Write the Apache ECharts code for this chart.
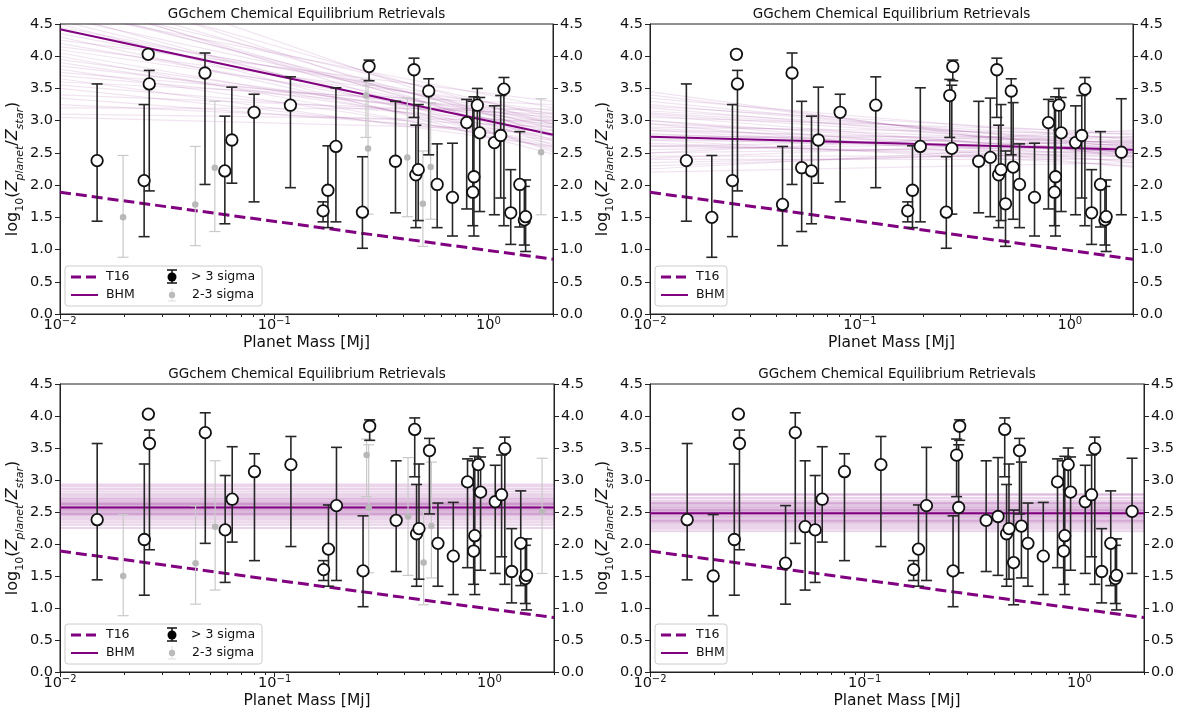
<!DOCTYPE html>
<html><head><meta charset="utf-8">
<script src="https://cdn.jsdelivr.net/npm/echarts@6/dist/echarts.min.js"></script>
<style>html,body{margin:0;padding:0;background:#fff}#c{width:1178px;height:715px}</style>
</head><body><div id="c"></div>
<script>
// ---------------- data ----------------
const MASS_MIN = 0.01, MASS_MAX = 2;
const planetMass = [0.0149,0.0197,0.0247,0.0258,0.0261,0.0428,0.0475,0.0528,0.0588,0.0634,0.0805,0.119,0.169,0.178,0.194,0.258,0.268,0.274,0.277,0.368,0.418,0.449,0.458,0.470,0.494,0.526,0.537,0.576,0.679,0.791,0.845,0.855,0.887,0.910,1.065,1.14,1.18,1.27,1.40,1.47,1.49,1.76];
const logZ      = [2.38,1.50,2.07,4.03,3.57,1.70,3.74,2.27,2.22,2.70,3.13,3.24,1.60,1.92,2.60,1.58,3.39,2.57,3.84,2.37,2.43,3.79,2.16,2.24,1.71,3.46,2.28,2.01,1.81,2.97,1.89,2.13,3.24,2.81,2.66,2.77,3.49,1.57,2.01,1.46,1.51,2.51];
const logZLow   = [1.44,0.88,1.20,3.98,1.91,1.06,2.01,1.28,1.40,2.03,1.74,1.96,1.43,1.34,1.43,1.02,2.74,1.55,3.62,1.57,1.51,3.05,1.34,1.45,1.05,2.47,1.47,1.34,1.21,1.63,1.37,1.21,2.85,1.59,1.54,1.80,1.37,1.08,1.35,1.07,0.97,1.54];
const logZHigh  = [3.57,2.46,3.25,4.05,3.78,2.60,4.05,3.30,3.07,3.52,3.41,3.68,1.74,2.61,3.51,2.44,3.64,3.55,3.94,3.30,3.35,3.97,2.93,3.25,2.53,3.65,3.28,2.64,2.65,3.33,3.30,3.37,3.50,3.36,3.23,3.39,3.67,2.24,2.83,1.98,2.08,3.34];
// 3 => detection > 3 sigma, 2 => 2-3 sigma
const detectionSigma = [3,2,3,3,3,2,3,2,3,3,3,3,3,3,3,3,2,2,3,3,2,3,3,3,2,3,2,3,3,3,3,3,3,3,3,3,3,3,3,3,3,2];

const t16Start = 1.89, t16End = 0.85;
const bhmStart = [4.42, 2.75, 2.57, 2.48];
const bhmEnd   = [2.78, 2.55, 2.57, 2.48];

const postTLStart = [4.90,4.60,4.20,3.95,5.20,4.75,3.70,4.05,4.45,3.40,5.00,4.30,3.85,4.65,3.55,4.15,5.40,3.25,4.55,3.90,4.85,3.60,4.35,3.10,4.00,5.10,3.80,4.70,3.35,4.25,3.05,4.50,3.75,4.95,3.50,4.10,3.20,4.80,3.65,4.40];
const postTLEnd   = [2.70,2.95,2.85,2.90,2.62,2.88,3.05,2.72,3.02,3.10,2.80,2.60,2.98,2.55,2.95,3.15,2.75,2.90,2.68,2.80,3.05,3.25,2.92,3.00,2.58,2.95,2.65,3.20,2.78,3.30,2.85,2.48,3.12,2.52,2.70,3.00,3.18,2.76,2.60,3.10];
const postTRStart = [3.10,2.85,3.35,2.60,2.95,2.40,3.20,2.75,3.00,2.50,3.40,2.70,2.90,2.30,3.15,2.55,2.80,3.25,2.45,3.05,2.65,2.25,3.30,2.85,2.60,3.00,2.35,2.70,3.45,2.95,2.50,3.12,2.78,2.20,2.88,3.22,2.62,2.42,3.08,2.72];
const postTREnd   = [2.60,2.45,2.70,2.50,2.65,2.40,2.55,2.75,2.35,2.60,2.48,2.30,2.80,2.55,2.72,2.68,2.52,2.62,2.45,2.82,2.38,2.65,2.58,2.66,2.75,2.50,2.50,2.58,2.42,2.28,2.85,2.68,2.62,2.35,2.55,2.78,2.44,2.70,2.46,2.52];
const postBL = [2.25,2.30,2.34,2.38,2.41,2.44,2.46,2.48,2.50,2.52,2.53,2.55,2.56,2.58,2.59,2.61,2.62,2.64,2.66,2.68,2.70,2.72,2.75,2.78,2.82,2.86,2.90,2.93,2.47,2.63];
const postBR = [2.20,2.24,2.27,2.30,2.33,2.36,2.38,2.40,2.42,2.44,2.46,2.47,2.49,2.50,2.52,2.54,2.56,2.58,2.60,2.62,2.65,2.68,2.72,2.76,2.78,2.35,2.53,2.64];

const xMajorTicks = [0.01, 0.1, 1];
const xMinorTicks = [0.02,0.03,0.04,0.05,0.06,0.07,0.08,0.09,0.2,0.3,0.4,0.5,0.6,0.7,0.8,0.9,2];
const Y_MIN = 0, Y_MAX = 4.5, Y_STEP = 0.5;
const titleText = 'GGchem Chemical Equilibrium Retrievals';
const xName = 'Planet Mass [Mj]';

// ---------------- layout / style ----------------
const FONT = 'DejaVu Sans';
const PURPLE = '#800080';
const grids = [
  {left: 60,  top: 24,  width: 493, height: 290},
  {left: 650, top: 24,  width: 483, height: 290},
  {left: 60,  top: 384, width: 494, height: 288},
  {left: 650, top: 384, width: 494, height: 288}
];
const splitSigma = [true, false, true, false];
const postStart = [postTLStart, postTRStart, postBL, postBR];
const postEnd   = [postTLEnd,   postTREnd,   postBL, postBR];

function xLabel(v) {
  const e = Math.round(Math.log10(v));
  return '10{sup|' + String(e).replace('-', '−') + '}';
}
const yName = '{m|log}{s|10}{m|(}{i|Z}{si|planet}{m|/}{i|Z}{si|star}{m|)}';
const yNameRich = {
  m: {fontSize: 16, lineHeight: 26, fontFamily: FONT, color: '#111'},
  i: {fontSize: 16, lineHeight: 26, fontFamily: FONT, fontStyle: 'italic', color: '#111'},
  s: {fontSize: 11, lineHeight: 11, fontFamily: FONT, verticalAlign: 'bottom', color: '#111'},
  si: {fontSize: 11, lineHeight: 11, fontFamily: FONT, fontStyle: 'italic', verticalAlign: 'bottom', color: '#111'}
};

const xAxes = [], yAxes = [], series = [], graphics = [];

grids.forEach((g, gi) => {
  xAxes.push({
    type: 'log', logBase: 10, gridIndex: gi, min: MASS_MIN, max: MASS_MAX, position: 'bottom',
    name: xName, nameLocation: 'middle', nameGap: 21,
    nameTextStyle: {fontFamily: FONT, fontSize: 15.5, color: '#111'},
    axisLine: {show: true, lineStyle: {color: '#222', width: 1}},
    axisTick: {show: true, length: 5, lineStyle: {color: '#222'}, customValues: xMajorTicks},
    axisLabel: {show: true, margin: 2, fontFamily: FONT, fontSize: 14.5, color: '#111', lineHeight: 18,
      customValues: xMajorTicks, formatter: xLabel,
      rich: {sup: {fontSize: 10, lineHeight: 10, verticalAlign: 'top', fontFamily: FONT, color: '#111'}}},
    splitLine: {show: false}
  });
  xAxes.push({
    type: 'log', logBase: 10, gridIndex: gi, min: MASS_MIN, max: MASS_MAX, position: 'bottom',
    axisLine: {show: false},
    axisTick: {show: true, length: 3, lineStyle: {color: '#222'}, customValues: xMinorTicks},
    axisLabel: {show: false}, splitLine: {show: false}
  });
  const yCommon = {
    type: 'value', gridIndex: gi, min: Y_MIN, max: Y_MAX, interval: Y_STEP,
    axisLine: {show: true, lineStyle: {color: '#222', width: 1}},
    axisTick: {show: true, length: 5, lineStyle: {color: '#222'}},
    splitLine: {show: false}
  };
  yAxes.push(Object.assign({}, yCommon, {
    position: 'left',
    name: yName, nameLocation: 'middle', nameRotate: 90, nameGap: 31,
    nameTextStyle: {rich: yNameRich},
    axisLabel: {margin: 7, fontFamily: FONT, fontSize: 14.5, color: '#111', formatter: v => v.toFixed(1)}
  }));
  yAxes.push(Object.assign({}, yCommon, {
    position: 'right',
    axisLabel: {margin: 7, fontFamily: FONT, fontSize: 14.5, color: '#111', formatter: v => v.toFixed(1)}
  }));

  const xi = gi * 2, yi = gi * 2;
  // posterior sample lines
  const s = postStart[gi], e = postEnd[gi];
  for (let k = 0; k < s.length; k++) {
    series.push({type: 'line', xAxisIndex: xi, yAxisIndex: yi, silent: true, symbol: 'none', z: 1,
      data: [[MASS_MIN, s[k]], [MASS_MAX, e[k]]],
      lineStyle: {color: PURPLE, width: gi < 2 ? 1.2 : 2, opacity: gi < 2 ? 0.11 : 0.17}});
  }
  // T16
  series.push({type: 'line', xAxisIndex: xi, yAxisIndex: yi, silent: true, symbol: 'none', z: 2,
    data: [[MASS_MIN, t16Start], [MASS_MAX, t16End]],
    lineStyle: {color: PURPLE, width: 3, type: [11, 5]}});
  // BHM
  series.push({type: 'line', xAxisIndex: xi, yAxisIndex: yi, silent: true, symbol: 'none', z: 2,
    data: [[MASS_MIN, bhmStart[gi]], [MASS_MAX, bhmEnd[gi]]],
    lineStyle: {color: PURPLE, width: 2}});

  const strong = [], weak = [], strongPts = [], weakPts = [];
  planetMass.forEach((m, i) => {
    const isStrong = !splitSigma[gi] || detectionSigma[i] === 3;
    (isStrong ? strong : weak).push([m, logZLow[i], logZHigh[i]]);
    (isStrong ? strongPts : weakPts).push([m, logZ[i]]);
  });
  const errSeries = (items, color, width, z) => ({
    type: 'custom', xAxisIndex: xi, yAxisIndex: yi, silent: true, z: z, data: items,
    encode: {x: 0, y: [1, 2]},
    renderItem: (params, api) => {
      const x = api.value(0);
      const a = api.coord([x, api.value(1)]), b = api.coord([x, api.value(2)]);
      const cw = 5.5, st = {stroke: color, lineWidth: width};
      return {type: 'group', children: [
        {type: 'line', shape: {x1: a[0], y1: a[1], x2: b[0], y2: b[1]}, style: st},
        {type: 'line', shape: {x1: a[0] - cw, y1: a[1], x2: a[0] + cw, y2: a[1]}, style: st},
        {type: 'line', shape: {x1: b[0] - cw, y1: b[1], x2: b[0] + cw, y2: b[1]}, style: st}
      ]};
    }
  });
  if (weak.length) {
    series.push(errSeries(weak, '#c9c9c9', 1.2, 3));
    series.push({type: 'scatter', xAxisIndex: xi, yAxisIndex: yi, silent: true, z: 4, data: weakPts,
      symbol: 'circle', symbolSize: 6.5, itemStyle: {color: '#b8b8b8', opacity: 1}});
  }
  series.push(errSeries(strong, '#262626', 1.6, 5));
  series.push({type: 'scatter', xAxisIndex: xi, yAxisIndex: yi, silent: true, z: 6, data: strongPts,
    symbol: 'circle', symbolSize: 11.5, itemStyle: {color: '#fff', borderColor: '#111', borderWidth: 1.8, opacity: 1}});

  // title
  graphics.push({type: 'text', x: g.left + g.width / 2, y: g.top - 10, silent: true,
    style: {text: titleText, align: 'center', verticalAlign: 'middle', font: '13.5px "DejaVu Sans"', fill: '#111'}});

  // legend
  const full = splitSigma[gi];
  const bw = full ? 197 : 72, bh = 40;
  const x0 = g.left + 5, y0 = g.top + g.height - 8 - bh;
  const r1 = y0 + 11, r2 = y0 + 29;
  graphics.push({type: 'rect', silent: true, z: 50, shape: {x: x0, y: y0, width: bw, height: bh, r: 3},
    style: {fill: 'rgba(255,255,255,0.85)', stroke: '#cccccc', lineWidth: 1}});
  graphics.push({type: 'line', silent: true, z: 51, shape: {x1: x0 + 6, y1: r1, x2: x0 + 33, y2: r1},
    style: {stroke: PURPLE, lineWidth: 3, lineDash: [10, 5]}});
  graphics.push({type: 'line', silent: true, z: 51, shape: {x1: x0 + 6, y1: r2, x2: x0 + 33, y2: r2},
    style: {stroke: PURPLE, lineWidth: 2}});
  graphics.push({type: 'text', silent: true, z: 51, x: x0 + 41, y: r1,
    style: {text: 'T16', verticalAlign: 'middle', font: '12.5px "DejaVu Sans"', fill: '#111'}});
  graphics.push({type: 'text', silent: true, z: 51, x: x0 + 41, y: r2,
    style: {text: 'BHM', verticalAlign: 'middle', font: '12.5px "DejaVu Sans"', fill: '#111'}});
  if (full) {
    const mx = x0 + 107;
    graphics.push({type: 'line', silent: true, z: 51, shape: {x1: mx, y1: r1 - 7, x2: mx, y2: r1 + 6}, style: {stroke: '#111', lineWidth: 1.5}});
    graphics.push({type: 'line', silent: true, z: 51, shape: {x1: mx - 5, y1: r1 - 7, x2: mx + 5, y2: r1 - 7}, style: {stroke: '#111', lineWidth: 1.5}});
    graphics.push({type: 'line', silent: true, z: 51, shape: {x1: mx - 5, y1: r1 + 6, x2: mx + 5, y2: r1 + 6}, style: {stroke: '#111', lineWidth: 1.5}});
    graphics.push({type: 'circle', silent: true, z: 52, shape: {cx: mx, cy: r1, r: 4.5}, style: {fill: '#000'}});
    graphics.push({type: 'line', silent: true, z: 51, shape: {x1: mx, y1: r2 - 7, x2: mx, y2: r2 + 6}, style: {stroke: '#ddd', lineWidth: 1}});
    graphics.push({type: 'line', silent: true, z: 51, shape: {x1: mx - 4, y1: r2 + 6, x2: mx + 4, y2: r2 + 6}, style: {stroke: '#ddd', lineWidth: 1}});
    graphics.push({type: 'circle', silent: true, z: 52, shape: {cx: mx, cy: r2, r: 3.2}, style: {fill: '#bbb'}});
    graphics.push({type: 'text', silent: true, z: 51, x: x0 + 126, y: r1,
      style: {text: '> 3 sigma', verticalAlign: 'middle', font: '12.5px "DejaVu Sans"', fill: '#111'}});
    graphics.push({type: 'text', silent: true, z: 51, x: x0 + 127, y: r2,
      style: {text: '2-3 sigma', verticalAlign: 'middle', font: '12.5px "DejaVu Sans"', fill: '#111'}});
  }
});

const chart = echarts.init(document.getElementById('c'), null, {renderer: 'canvas'});
chart.setOption({
  animation: false,
  backgroundColor: '#fff',
  textStyle: {fontFamily: FONT},
  grid: grids.map(g => Object.assign({show: true, borderColor: '#222', borderWidth: 1, backgroundColor: 'transparent'}, g)),
  xAxis: xAxes,
  yAxis: yAxes,
  series: series,
  graphic: graphics
});
</script>
</body></html>
